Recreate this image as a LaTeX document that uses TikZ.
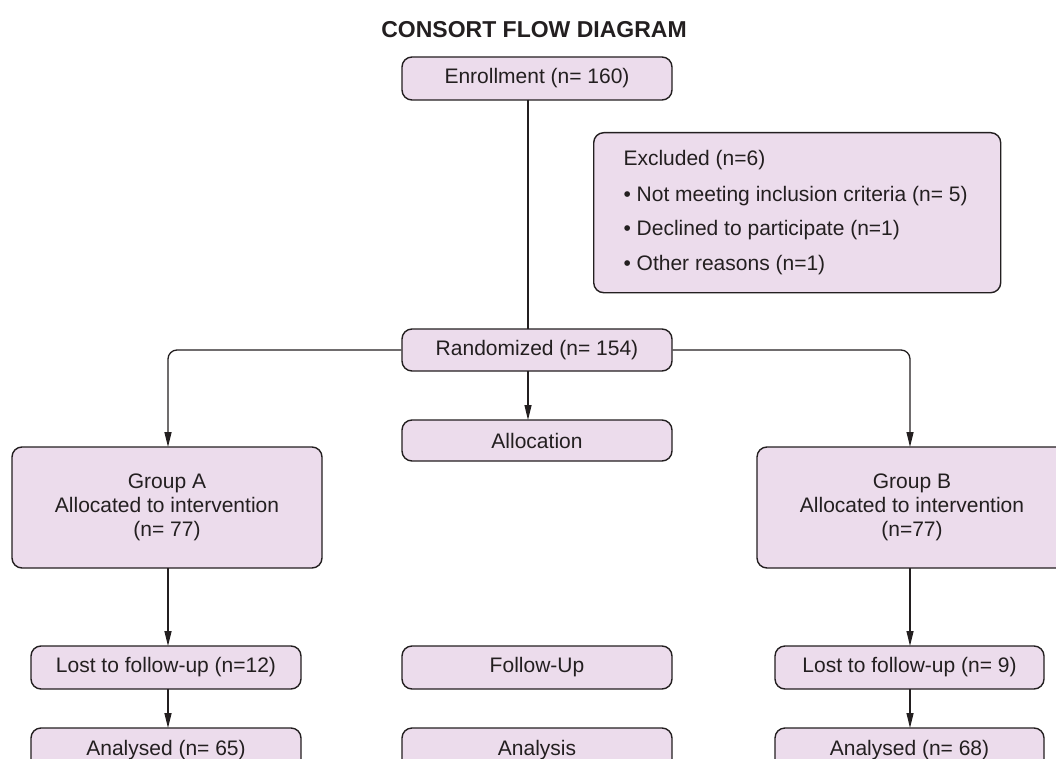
\documentclass[tikz,border=0pt]{standalone}
\usepackage{fontspec}
\setmainfont{Liberation Sans}
\usetikzlibrary{arrows.meta}
\definecolor{boxfill}{RGB}{236,220,236}
\definecolor{ink}{RGB}{35,31,32}
\tikzset{
  flowbox/.style={draw=ink, fill=boxfill, line width=1.4pt, rounded corners=10pt,
    inner sep=0pt, text=ink, font=\fontsize{21}{25}\selectfont, align=center},
  conn/.style={draw=ink, line width=1.3pt},
  arr/.style={conn, -{Triangle[length=15pt,width=7pt]}}
}
\newcommand{\boxat}[6]{% name, x1, y1, x2, y2, text
  \node[flowbox, minimum width={#4-#2}, minimum height={#5-#3}]
    (#1) at ({(#2+#4)/2},{(#3+#5)/2}) {#6};}
\begin{document}
\begin{tikzpicture}[x=1pt,y=-1pt]
\useasboundingbox (0,0) rectangle (1056,759);
\clip (0,0) rectangle (1056,759);
\node[text=ink, font=\bfseries\fontsize{23}{27}\selectfont] (title) at (534,30) {CONSORT FLOW DIAGRAM};
\boxat{enr}{402}{57}{672}{100}{Enrollment (n= 160)}
\node[flowbox, minimum width=407pt, minimum height=160pt, align=left, anchor=north west,
  text width=380pt, inner xsep=0pt] (excl) at (593,132) {};
\node[anchor=west, text=ink, font=\fontsize{21}{25}\selectfont] (ex1) at (620,160) {Excluded (n=6)};
\node[anchor=west, text=ink, font=\fontsize{21}{25}\selectfont] (ex2) at (620,196) {\textbullet\ Not meeting inclusion criteria (n= 5)};
\node[anchor=west, text=ink, font=\fontsize{21}{25}\selectfont] (ex3) at (620,230) {\textbullet\ Declined to participate (n=1)};
\node[anchor=west, text=ink, font=\fontsize{21}{25}\selectfont] (ex4) at (620,265) {\textbullet\ Other reasons (n=1)};
\boxat{rand}{402}{329}{672}{371}{Randomized (n= 154)}
\boxat{alloc}{402}{420}{672}{461}{Allocation}
\boxat{ga}{12}{447}{322}{568}{Group A\\[-1pt]Allocated to intervention\\[-1pt](n= 77)}
\boxat{gb}{757}{447}{1067}{568}{Group B\\[-1pt]Allocated to intervention\\[-1pt](n=77)}
\boxat{losta}{31}{646}{301}{689}{Lost to follow-up (n=12)}
\boxat{fu}{402}{646}{672}{689}{Follow-Up}
\boxat{lostb}{775}{646}{1044}{689}{Lost to follow-up (n= 9)}
\boxat{ana}{31}{728}{301}{772}{Analysed (n= 65)}
\boxat{anl}{402}{728}{672}{772}{Analysis}
\boxat{anb}{775}{728}{1044}{772}{Analysed (n= 68)}
% connectors
\draw[conn] (528,100) -- (528,329);
\draw[arr] (528,371) -- (528,420);
\draw[arr, rounded corners=9pt] (rand.west) -- (168,350) -- (168,447);
\draw[arr, rounded corners=9pt] (rand.east) -- (910,350) -- (910,447);
\draw[arr] (168,568) -- (168,646);
\draw[arr] (910,568) -- (910,646);
\draw[arr] (168,689) -- (168,728);
\draw[arr] (910,689) -- (910,728);
\end{tikzpicture}
\end{document}
